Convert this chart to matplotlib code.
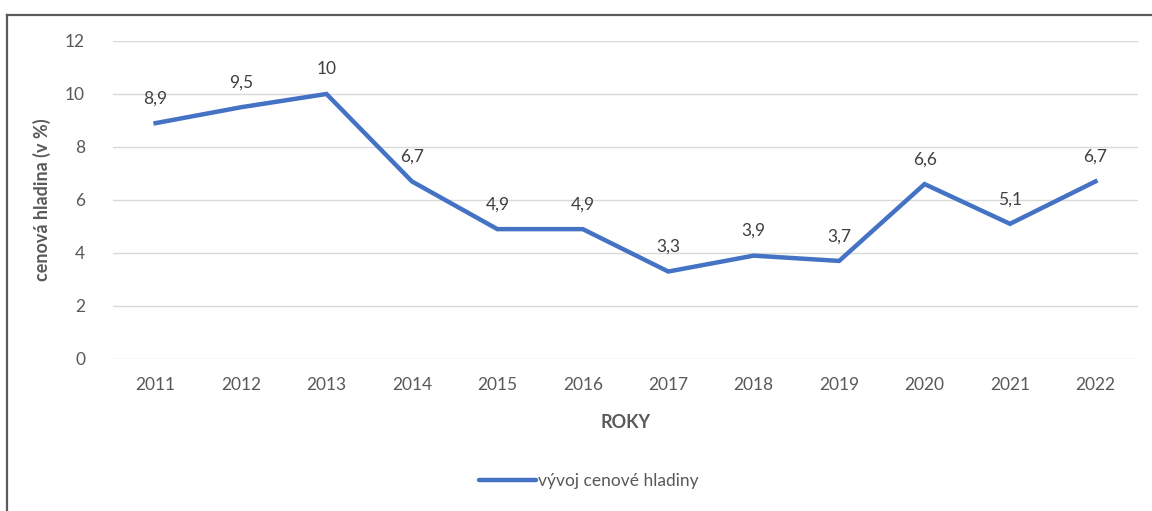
import matplotlib
matplotlib.use("Agg")
import matplotlib.pyplot as plt
from matplotlib.lines import Line2D

plt.rcParams['font.family'] = ['Lato', 'DejaVu Sans']

years = ['2011', '2012', '2013', '2014', '2015', '2016',
         '2017', '2018', '2019', '2020', '2021', '2022']
values = [8.9, 9.5, 10, 6.7, 4.9, 4.9, 3.3, 3.9, 3.7, 6.6, 5.1, 6.7]
value_labels = ['8,9', '9,5', '10', '6,7', '4,9', '4,9',
                '3,3', '3,9', '3,7', '6,6', '5,1', '6,7']

blue = '#4472C4'
grey = '#595959'

fig = plt.figure(figsize=(11.52, 5.11), dpi=100)
ax = fig.add_axes([0.098, 0.2975, 0.89, 0.6223])

x = list(range(len(years)))
ax.plot(x, values, color=blue, linewidth=3.2, solid_joinstyle='miter',
        label='vývoj cenové hladiny')
for xi, v, t in zip(x, values, value_labels):
    ax.annotate(t, (xi, v), xytext=(0, 12), textcoords='offset points',
                ha='center', va='bottom', fontsize=12.5, color='#404040')

ax.set_xlim(-0.5, len(years) - 0.5)
ax.set_ylim(0, 12)
ax.set_yticks(range(0, 13, 2))
ax.set_xticks(x)
ax.set_xticklabels(years)
ax.grid(axis='y', color='#D9D9D9', linewidth=1)
ax.set_axisbelow(True)
for s in ax.spines.values():
    s.set_visible(False)
ax.tick_params(length=0, colors=grey, labelsize=12.5, pad=13)
ax.tick_params(axis='y', pad=20)

ax.set_xlabel('ROKY', fontsize=13, fontweight='bold', color=grey, labelpad=15)
ax.set_ylabel('cenová hladina (v %)', fontsize=13, fontweight='bold',
              color=grey, labelpad=10)

handle = Line2D([], [], color=blue, linewidth=3.2, solid_capstyle='round')
fig.legend([handle], ['vývoj cenové hladiny'], loc='center',
           bbox_to_anchor=(0.511, 0.058), frameon=False, fontsize=12.5,
           labelcolor=grey, handlelength=3.3, handletextpad=0.1)

# outer frame (only top and left edges visible in the source)
fig.add_artist(Line2D([0.006, 1.0], [0.9706, 0.9706], color='#5A5A5A',
                      linewidth=1.6, transform=fig.transFigure))
fig.add_artist(Line2D([0.006, 0.006], [0.0, 0.9706], color='#5A5A5A',
                      linewidth=1.6, transform=fig.transFigure))

fig.savefig('out.png', dpi=100, facecolor='white')
